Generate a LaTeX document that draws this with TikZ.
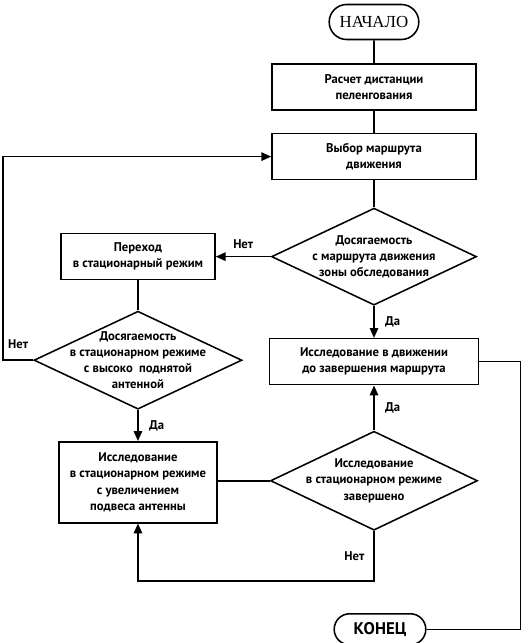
\documentclass[tikz,border=0pt]{standalone}
\usepackage{fontspec}
\setmainfont{Liberation Serif}
\setsansfont{PT Sans}
\usetikzlibrary{positioning, arrows.meta, shapes.geometric, shapes.misc}

\begin{document}
\begin{tikzpicture}[
    >={Triangle[length=7pt, width=6pt]},
    line width=1.1pt,
    block/.style={
      draw,
      rectangle,
      align=center,
      inner sep=2pt,
      font=\sffamily\bfseries\fontsize{9}{11.5}\selectfont,
    },
    decision/.style={
      draw,
      diamond,
      aspect=2.1,
      align=center,
      inner sep=-8pt,
      font=\sffamily\bfseries\fontsize{9}{11.5}\selectfont,
    },
    terminal/.style={
      draw,
      rounded rectangle,
      align=center,
    },
    branch/.style={
      font=\sffamily\bfseries\fontsize{9}{11}\selectfont,
    },
  ]

  \useasboundingbox (0,0) rectangle (13.2,-16.075);

  % --- Main column ---
  \node[terminal, minimum width=2.475cm, minimum height=0.875cm,
        font=\fontsize{12}{14}\selectfont] (start) at (9.35,-0.55) {НАЧАЛО};

  \node[block, minimum width=5.1cm, minimum height=1.15cm, below=0.575cm of start] (calc) {%
    Расчет дистанции\\
    пеленгования%
  };

  \node[block, minimum width=5.1cm, minimum height=1.15cm, below=0.55cm of calc] (route) {%
    Выбор маршрута\\
    движения%
  };

  \node[decision, minimum width=5.125cm, minimum height=2.425cm, below=0.675cm of route] (reach) {%
    Досягаемость\\
    с маршрута движения\\
    зоны обследования%
  };

  \node[block, minimum width=5.225cm, minimum height=1.15cm, below=0.8cm of reach] (move) {%
    Исследование в движении\\
    до завершения маршрута%
  };

  \node[decision, minimum width=5.175cm, minimum height=2.475cm, below=1.125cm of move] (done) {%
    Исследование\\
    в стационарном режиме\\
    завершено%
  };

  \node[terminal, minimum width=2.525cm, minimum height=0.775cm,
        font=\sffamily\bfseries\fontsize{12}{14}\selectfont,
        below=2.05cm of done, xshift=0.15cm] (end) {КОНЕЦ};

  % --- Stationary branch ---
  \node[block, minimum width=3.85cm, minimum height=1.15cm, left=1.375cm of reach] (switch) {%
    Переход\\
    в стационарный режим%
  };

  \node[decision, minimum width=5.2cm, minimum height=2.45cm, below=0.75cm of switch] (reachst) {%
    Досягаемость\\
    в стационарном режиме\\
    с высоко~~поднятой\\
    антенной%
  };

  \node[block, minimum width=3.95cm, minimum height=2.025cm, below=0.775cm of reachst] (stat) {%
    Исследование\\
    в стационарном режиме\\
    с увеличением\\
    подвеса антенны%
  };

  % --- Plain links ---
  \draw (start) -- (calc);
  \draw (calc) -- (route);
  \draw (route) -- (reach);
  \draw (switch) -- (reachst);
  \draw (done.west) -- (done.west -| stat.east);

  % --- Branches ---
  \draw[->] (reach.west) -- (switch.east)
    node[midway, above=2pt, branch] {Нет};
  \draw[->] (reach.south) -- (move.north)
    node[midway, right=4pt, branch] {Да};
  \draw[->] (reachst.south) -- (stat.north)
    node[midway, right=4pt, branch] {Да};
  \draw[->] (done.north) -- (move.south)
    node[midway, right=4pt, branch] {Да};

  % --- Loops ---
  \draw[->] (reachst.west) -- ++(-0.75,0)
    node[midway, above=4pt, branch] {Нет}
    |- (route.west);
  \draw[->] (done.south) -- ++(0,-1.25)
    node[midway, left=3pt, branch] {Нет}
    -| (stat.south);
  \draw (move.east) -- ++(1.03,0) |- (end.east);

\end{tikzpicture}
\end{document}
